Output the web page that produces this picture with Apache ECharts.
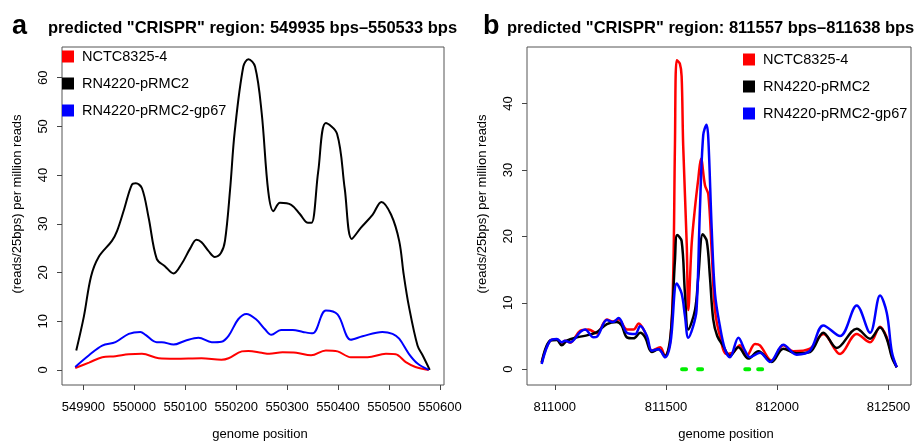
<!DOCTYPE html>
<html>
<head>
<meta charset="utf-8">
<script src="https://cdn.jsdelivr.net/npm/echarts@6/dist/echarts.min.js"></script>
<style>
  html, body { margin: 0; padding: 0; background: #fff; }
  #chart { width: 921px; height: 446px; }
</style>
</head>
<body>
<div id="chart"></div>
<script>
// series names
var names = ['NCTC8325-4', 'RN4220-pRMC2', 'RN4220-pRMC2-gp67']

// panel a: [genome position, (reads/25bps) per million reads]
var aRed = [[549884,0.4],[549911,1.5],[549937,2.6],[549963,2.8],[549989,3.2],[550015,3.3],[550048,2.4],[550080,2.3],[550132,2.4],[550171,2.1],[550185,2.4],[550211,3.8],[550224,3.9],[550250,3.5],[550265,3.3],[550291,3.6],[550318,3.5],[550347,3.0],[550376,4.0],[550399,3.8],[550425,2.6],[550458,2.6],[550494,3.3],[550513,3.2],[550533,1.6],[550552,0.6],[550578,0]]
var aBlack = [[549886,4.0],[549901,11.0],[549915,19.2],[549930,23.2],[549956,26.5],[549966,28.5],[549980,33.0],[549995,38.0],[550003,38.3],[550015,37.3],[550028,31.3],[550044,22.8],[550060,21.3],[550077,19.8],[550093,21.8],[550110,25.0],[550122,26.7],[550132,26.2],[550145,24.5],[550158,23.2],[550170,24.0],[550178,26.5],[550188,37.0],[550197,48.8],[550214,62.3],[550224,63.8],[550237,62.3],[550250,52.8],[550263,36.6],[550273,32.6],[550286,34.3],[550308,33.9],[550325,32.0],[550341,30.2],[550348,30.2],[550361,40.7],[550376,50.7],[550398,48.5],[550413,37.3],[550427,26.9],[550445,29.2],[550468,31.9],[550485,34.5],[550504,31.9],[550520,26.5],[550529,19.5],[550539,13.1],[550556,5.0],[550566,3.0],[550580,0]]
var aBlue = [[549884,0.6],[549911,3.0],[549937,5.0],[549963,5.7],[549989,7.4],[550012,7.8],[550022,7.2],[550044,5.7],[550054,5.7],[550077,5.2],[550100,6.0],[550126,6.6],[550152,5.7],[550171,5.8],[550185,7.0],[550204,10.4],[550220,11.5],[550239,10.4],[550256,8.4],[550269,7.2],[550288,8.2],[550311,8.2],[550331,7.8],[550350,7.5],[550376,12.2],[550399,11.4],[550425,6.2],[550448,6.9],[550487,7.8],[550507,7.4],[550520,6.4],[550539,3.3],[550556,1.3],[550578,0]]

// panel b
var bRed = [[810941,1.0],[810979,4.3],[811009,4.5],[811031,3.9],[811046,4.3],[811069,4.0],[811114,5.8],[811151,6.0],[811189,5.4],[811234,7.5],[811260,7.2],[811287,7.5],[811324,6.0],[811354,6.0],[811377,6.9],[811406,5.5],[811436,2.8],[811474,3.3],[811495,2.0],[811518,4.0],[811532,13.9],[811540,33.7],[811548,46.5],[811562,46.0],[811570,44.1],[811577,33.7],[811593,18.8],[811600,8.9],[811615,18.8],[811630,24.3],[811645,28.7],[811657,31.7],[811675,27.7],[811690,26.3],[811705,17.8],[811720,8.9],[811742,5.0],[811772,2.3],[811800,2.5],[811832,3.6],[811862,2.0],[811900,3.8],[811922,3.6],[811975,1.3],[812027,3.6],[812072,2.7],[812147,3.1],[812207,5.3],[812282,2.3],[812357,5.3],[812417,4.05],[812462,6.4],[812492,4.8],[812515,2.1],[812537,0.3]]
var bBlack = [[810941,1.0],[810979,4.3],[811009,4.4],[811031,3.6],[811054,4.3],[811099,4.8],[811144,5.1],[811189,5.6],[811234,6.8],[811279,7.1],[811300,6.6],[811324,4.8],[811354,4.65],[811384,5.5],[811406,4.8],[811436,2.6],[811466,3.0],[811495,2.0],[811520,5.0],[811540,16.4],[811550,20.2],[811570,19.3],[811585,11.4],[811600,6.0],[811630,8.9],[811645,13.9],[811665,20.3],[811683,19.3],[811697,14.0],[811712,7.5],[811730,5.0],[811757,3.5],[811787,2.0],[811825,3.3],[811870,1.6],[811915,2.7],[811975,1.1],[812027,3.1],[812087,2.4],[812147,2.6],[812207,5.5],[812267,3.2],[812357,6.1],[812417,4.6],[812462,6.3],[812492,4.6],[812515,1.8],[812537,0.3]]
var bBlue = [[810941,0.8],[810979,4.3],[811009,4.55],[811031,4.05],[811046,4.3],[811069,4.05],[811114,5.6],[811136,6.0],[811174,4.8],[811190,4.9],[811234,7.4],[811260,7.1],[811287,7.7],[811324,5.5],[811361,5.3],[811384,6.5],[811414,5.0],[811436,2.8],[811466,3.0],[811496,1.8],[811520,4.0],[811548,12.9],[811570,11.4],[811585,8.0],[811600,4.75],[811622,6.5],[811637,8.9],[811652,23.8],[811667,35.2],[811682,36.8],[811690,34.7],[811705,21.3],[811720,11.4],[811742,6.5],[811765,3.0],[811787,1.8],[811825,4.75],[811855,2.8],[811877,1.8],[811922,2.5],[811967,1.1],[812027,3.7],[812087,2.2],[812147,2.8],[812207,6.6],[812282,5.0],[812357,9.6],[812417,5.5],[812462,11.1],[812492,8.5],[812515,2.6],[812537,0.3]]

// predicted spacers (start, end), drawn at y = 0
var spacers = [[811572,811590],[811644,811662],[811856,811874],[811914,811932]]

// tick labels
var aXTicks = [549900, 550000, 550100, 550200, 550300, 550400, 550500, 550600]
var aYTicks = [0, 10, 20, 30, 40, 50, 60]
var bXTicks = [811000, 811500, 812000, 812500]
var bYTicks = [0, 10, 20, 30, 40]

var titleA = 'predicted "CRISPR" region: 549935 bps\u2013550533 bps'
var titleB = 'predicted "CRISPR" region: 811557 bps\u2013811638 bps'

var FONT = 'Liberation Sans'
var colors = ['#ff0000', '#000000', '#0000ff']

var spacerData = []
spacers.forEach(function (s) {
  spacerData.push([s[0], 0], [s[1], 0], [s[1], '-'])
})

function plain(v) {
  return String(v)
}

function xAxisOf(idx, min, max, ticks) {
  return {
    type: 'value', gridIndex: idx, min: min, max: max,
    name: 'genome position', nameLocation: 'middle', nameGap: 43,
    nameTextStyle: { fontFamily: FONT, fontSize: 13, color: '#000', padding: [0, 0, 0, 14] },
    axisLine: { show: false, onZero: false },
    axisTick: { show: true, length: 5, lineStyle: { color: '#444' }, customValues: ticks },
    axisLabel: { fontFamily: FONT, fontSize: 13, color: '#000', margin: 16, formatter: plain, customValues: ticks },
    splitLine: { show: false }
  }
}

function yAxisOf(idx, min, max, ticks) {
  return {
    type: 'value', gridIndex: idx, min: min, max: max,
    name: '(reads/25bps) per million reads', nameLocation: 'middle', nameGap: 38,
    nameTextStyle: { fontFamily: FONT, fontSize: 13, color: '#000', padding: [0, 0, 0, 24] },
    axisLine: { show: false, onZero: false },
    axisTick: { show: true, length: 5, lineStyle: { color: '#444' }, customValues: ticks },
    axisLabel: { fontFamily: FONT, fontSize: 13, color: '#000', margin: 12, rotate: 90, formatter: plain, customValues: ticks },
    splitLine: { show: false }
  }
}

function lineOf(name, data, idx, color, width) {
  return {
    name: name, type: 'line', xAxisIndex: idx, yAxisIndex: idx,
    data: data, smooth: 0.35, showSymbol: false, symbol: 'none',
    lineStyle: { color: color, width: width }, itemStyle: { color: color },
    emphasis: { disabled: true }
  }
}

function legendOf(left, top) {
  return {
    data: names, orient: 'vertical', left: left, top: top, padding: 0,
    itemGap: 12, itemWidth: 12, itemHeight: 12, icon: 'rect',
    textStyle: { fontFamily: FONT, fontSize: 14.5, color: '#000', padding: [0, 0, 0, 3] },
    selectedMode: false
  }
}

var chart = echarts.init(document.getElementById('chart'), null, { renderer: 'canvas' })

chart.setOption({
  animation: false,
  backgroundColor: '#fff',
  title: [
    { text: 'a', left: 12, top: 13, padding: 0, textStyle: { fontFamily: FONT, fontSize: 27, fontWeight: 'bold', color: '#000' } },
    { text: titleA, left: 48, top: 20, padding: 0, textStyle: { fontFamily: FONT, fontSize: 16.5, fontWeight: 'bold', color: '#000' } },
    { text: 'b', left: 483, top: 13, padding: 0, textStyle: { fontFamily: FONT, fontSize: 27, fontWeight: 'bold', color: '#000' } },
    { text: titleB, left: 507, top: 20, padding: 0, textStyle: { fontFamily: FONT, fontSize: 16.5, fontWeight: 'bold', color: '#000' } }
  ],
  legend: [legendOf(62, 49), legendOf(743, 52)],
  grid: [
    { left: 62, top: 47, width: 382, height: 343, show: true, borderColor: '#555', borderWidth: 1 },
    { left: 527, top: 47, width: 384, height: 343, show: true, borderColor: '#555', borderWidth: 1 }
  ],
  xAxis: [
    xAxisOf(0, 549858, 550608, aXTicks),
    xAxisOf(1, 810875, 812601, bXTicks)
  ],
  yAxis: [
    yAxisOf(0, -3.1, 66.3, aYTicks),
    yAxisOf(1, -2.37, 48.5, bYTicks)
  ],
  series: [
    lineOf(names[0], aRed, 0, colors[0], 2),
    lineOf(names[1], aBlack, 0, colors[1], 2),
    lineOf(names[2], aBlue, 0, colors[2], 2),
    lineOf(names[0], bRed, 1, colors[0], 2.5),
    lineOf(names[1], bBlack, 1, colors[1], 2.5),
    lineOf(names[2], bBlue, 1, colors[2], 2.5),
    {
      type: 'line', xAxisIndex: 1, yAxisIndex: 1, data: spacerData,
      showSymbol: false, symbol: 'none', connectNulls: false,
      lineStyle: { color: '#00ee00', width: 4, cap: 'round' }, emphasis: { disabled: true }
    }
  ]
})
</script>
</body>
</html>
